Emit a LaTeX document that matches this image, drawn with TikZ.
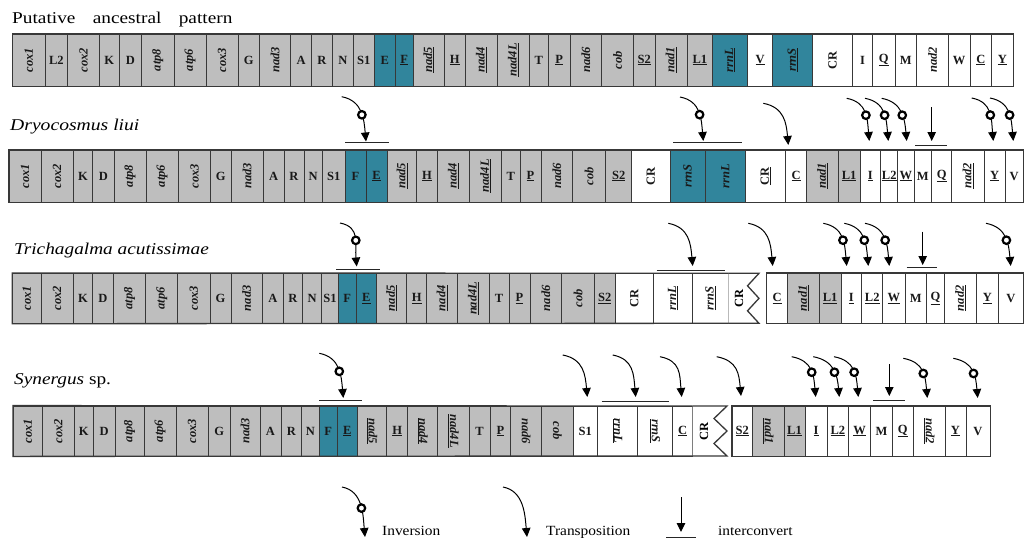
\documentclass[tikz,border=0pt]{standalone}
\usepackage{fontspec}
\setmainfont{Liberation Serif}
\usepackage{graphicx}
\usetikzlibrary{arrows.meta}
\definecolor{gfill}{HTML}{BEBEBE}
\definecolor{bfill}{HTML}{31859C}
\definecolor{cline}{HTML}{383838}
\newcommand\gup[1]{\textbf{#1}}
\newcommand\gul[1]{\textbf{\underline{#1}}}
\newcommand\grot[1]{\rotatebox{90}{\textbf{\textit{#1}}}}
\newcommand\grotu[1]{\rotatebox{90}{\textbf{\textit{\underline{#1}}}}}
\newcommand\grotd[1]{\rotatebox{-90}{\textbf{\textit{#1}}}}
\newcommand\grotdu[1]{\rotatebox{-90}{\textbf{\textit{\underline{#1}}}}}
\newcommand\gcr{\rotatebox{90}{\textbf{CR}}}
\newcommand\gcru{\rotatebox{90}{\textbf{\underline{CR}}}}
\def\rowY{0}\def\rowH{50}
\newcommand\gc[5]{\pgfmathsetmacro\cw{#3-#2}\pgfmathsetmacro\cx{(#2+#3)/2}%
  \node[cellbox,fill=#4,minimum width=\cw pt] (#1) at (\cx,\rowY) {#5};}
\newcommand\invarr[3]{\coordinate (#1s) at #2; \coordinate (#1t) at #3;
  \draw[arr] (#1s) .. controls +(21,4) and +(-2,-22) .. (#1t) node[ring,pos=0.55]{};}
\newcommand\trarr[3]{\coordinate (#1s) at #2; \coordinate (#1t) at #3;
  \draw[arr] (#1s) .. controls +(21,4) and +(-2,-22) .. (#1t);}
\newcommand\hbarline[3]{\coordinate (#1a) at #2; \coordinate (#1b) at #3; \draw[barline] (#1a) -- (#1b);}
\tikzset{
  cellbox/.style={draw=cline,line width=0.8pt,inner sep=0pt,minimum height=\rowH pt,
    font=\fontsize{12.5}{14}\selectfont,text=black!90},
  arr/.style={line width=1pt,-{Triangle[width=8.5pt,length=9pt]}},
  ring/.style={circle,draw=black,fill=white,line width=2.2pt,inner sep=0pt,minimum size=7.5pt},
  barline/.style={line width=0.9pt,draw=black!85},
  outl/.style={draw=cline,line width=1.3pt},
  ttl/.style={anchor=base west,inner sep=0pt,font=\fontsize{16.5}{18}\selectfont},
  lgd/.style={anchor=base west,inner sep=0pt,font=\fontsize{14}{16}\selectfont}
}
\begin{document}
\begin{tikzpicture}[x=1pt,y=-1pt]
\useasboundingbox (0,0) rectangle (1031,542);
% ---------------- titles
\node[ttl] (t1) at (12,23) {\scalebox{1.17}[1]{Putative\hspace{0.9em}ancestral\hspace{0.9em}pattern}};
\node[ttl] (t2) at (10,130.5) {\scalebox{1.19}[1]{\itshape Dryocosmus liui}};
\node[ttl] (t3) at (14,254) {\scalebox{1.17}[1]{\itshape Trichagalma acutissimae}};
\node[ttl] (t4) at (14,384.5) {\scalebox{1.17}[1]{\textit{Synergus} sp.}};
% ---------------- row 1
\def\rowY{60}\def\rowH{52}
\gc{a1}{12.7}{45}{gfill}{\grot{cox1}}
\gc{a2}{45}{67.7}{gfill}{\gup{L2}}
\gc{a3}{67.7}{99.3}{gfill}{\grot{cox2}}
\gc{a4}{99.3}{119.3}{gfill}{\gup{K}}
\gc{a5}{119.3}{141.7}{gfill}{\gup{D}}
\gc{a6}{141.7}{174}{gfill}{\grot{atp8}}
\gc{a7}{174}{206}{gfill}{\grot{atp6}}
\gc{a8}{206}{238.3}{gfill}{\grot{cox3}}
\gc{a9}{238.3}{259.3}{gfill}{\gup{G}}
\gc{a10}{259.3}{290.7}{gfill}{\grot{nad3}}
\gc{a11}{290.7}{311.7}{gfill}{\gup{A}}
\gc{a12}{311.7}{332.3}{gfill}{\gup{R}}
\gc{a13}{332.3}{353.3}{gfill}{\gup{N}}
\gc{a14}{353.3}{374.3}{gfill}{\gup{S1}}
\gc{a15}{374.3}{395.3}{bfill}{\gup{E}}
\gc{a16}{395.3}{413.3}{bfill}{\gul{F}}
\gc{a17}{413.3}{444.3}{gfill}{\grotu{nad5}}
\gc{a18}{444.3}{465.3}{gfill}{\gul{H}}
\gc{a19}{465.3}{497.3}{gfill}{\grotu{nad4}}
\gc{a20}{497.3}{529.3}{gfill}{\grotu{nad4L}}
\gc{a21}{529.3}{548.3}{gfill}{\gup{T}}
\gc{a22}{548.3}{570}{gfill}{\gul{P}}
\gc{a23}{570}{601.7}{gfill}{\grot{nad6}}
\gc{a24}{601.7}{633.3}{gfill}{\grot{cob}}
\gc{a25}{633.3}{655}{gfill}{\gul{S2}}
\gc{a26}{655}{687.3}{gfill}{\grotu{nad1}}
\gc{a27}{687.3}{712.3}{gfill}{\gul{L1}}
\gc{a28}{712.3}{747.7}{bfill}{\grotu{rrnL}}
\gc{a29}{747.7}{772.7}{white}{\gul{V}}
\gc{a30}{772.7}{812.7}{bfill}{\grotu{rrnS}}
\gc{a31}{812.7}{852.3}{white}{\gcr}
\gc{a32}{852.3}{872.7}{white}{\gup{I}}
\gc{a33}{872.7}{895}{white}{\gul{Q}}
\gc{a34}{895}{916.7}{white}{\gup{M}}
\gc{a35}{916.7}{948.3}{white}{\grot{nad2}}
\gc{a36}{948.3}{970}{white}{\gup{W}}
\gc{a37}{970}{991.7}{white}{\gul{C}}
\gc{a38}{991.7}{1013.3}{white}{\gul{Y}}
\draw[outl] (a1.north west) rectangle (a38.south east);
% ---------------- row 2
\def\rowY{176}\def\rowH{52}
\gc{b1}{9.3}{41}{gfill}{\grot{cox1}}
\gc{b2}{41}{73.3}{gfill}{\grot{cox2}}
\gc{b3}{73.3}{92.7}{gfill}{\gup{K}}
\gc{b4}{92.7}{114.3}{gfill}{\gup{D}}
\gc{b5}{114.3}{146}{gfill}{\grot{atp8}}
\gc{b6}{146}{178.3}{gfill}{\grot{atp6}}
\gc{b7}{178.3}{210.7}{gfill}{\grot{cox3}}
\gc{b8}{210.7}{231}{gfill}{\gup{G}}
\gc{b9}{231}{263.3}{gfill}{\grot{nad3}}
\gc{b10}{263.3}{284}{gfill}{\gup{A}}
\gc{b11}{284}{304}{gfill}{\gup{R}}
\gc{b12}{304}{322.3}{gfill}{\gup{N}}
\gc{b13}{322.3}{345}{gfill}{\gup{S1}}
\gc{b14}{345}{366}{bfill}{\gup{F}}
\gc{b15}{366}{387.3}{bfill}{\gul{E}}
\gc{b16}{387.3}{416.7}{gfill}{\grotu{nad5}}
\gc{b17}{416.7}{437.3}{gfill}{\gul{H}}
\gc{b18}{437.3}{469.3}{gfill}{\grotu{nad4}}
\gc{b19}{469.3}{501.7}{gfill}{\grotu{nad4L}}
\gc{b20}{501.7}{520}{gfill}{\gup{T}}
\gc{b21}{520}{541}{gfill}{\gul{P}}
\gc{b22}{541}{572.7}{gfill}{\grot{nad6}}
\gc{b23}{572.7}{605.7}{gfill}{\grot{cob}}
\gc{b24}{605.7}{631.7}{gfill}{\gul{S2}}
\gc{b25}{631.7}{670}{white}{\gcr}
\gc{b26}{670}{705}{bfill}{\grot{rrnS}}
\gc{b27}{705}{745.7}{bfill}{\grot{rrnL}}
\gc{b28}{745.7}{785.7}{white}{\gcru}
\gc{b29}{785.7}{806.7}{white}{\gul{C}}
\gc{b30}{806.7}{838.3}{gfill}{\grotu{nad1}}
\gc{b31}{838.3}{860}{gfill}{\gul{L1}}
\gc{b32}{860}{880.7}{white}{\gul{I}}
\gc{b33}{880.7}{897.7}{white}{\gul{L2}}
\gc{b34}{897.7}{914}{white}{\gul{W}}
\gc{b35}{914}{931.7}{white}{\gup{M}}
\gc{b36}{931.7}{951.7}{white}{\gul{Q}}
\gc{b37}{951.7}{984.3}{white}{\grotu{nad2}}
\gc{b38}{984.3}{1005}{white}{\gul{Y}}
\gc{b39}{1005}{1023.3}{white}{\gup{V}}
\draw[outl] (b1.north west) rectangle (b39.south east);
\draw[line width=1.6pt,draw=black!80] (b14.north east) -- (b14.south east);
% row 2 arrows
\invarr{r2a}{(341.7,96.7)}{(366,141.5)}
\hbarline{r2l}{(345,142.5)}{(389,142.5)}
\invarr{r2b}{(680,97)}{(703.3,141)}
\hbarline{r2m}{(673,142.7)}{(741.7,142.7)}
\trarr{r2c}{(763.3,103.3)}{(788.3,145)}
\invarr{r2d}{(846.7,98.3)}{(869.3,141)}
\invarr{r2e}{(865,98.3)}{(888.3,141)}
\invarr{r2f}{(881.7,98.3)}{(906.7,141)}
\coordinate (r2gs) at (931.7,107); \coordinate (r2gt) at (931.7,141);
\draw[arr] (r2gs) -- (r2gt);
\hbarline{r2n}{(915,145)}{(946.7,145)}
\invarr{r2h}{(971.7,98)}{(993.3,141)}
\invarr{r2i}{(990,98)}{(1013.3,141)}
% ---------------- row 3
\def\rowY{298.3}\def\rowH{50}
\gc{c1}{12.7}{41}{gfill}{\grot{cox1}}
\gc{c2}{41}{73.3}{gfill}{\grot{cox2}}
\gc{c3}{73.3}{92.7}{gfill}{\gup{K}}
\gc{c4}{92.7}{113.3}{gfill}{\gup{D}}
\gc{c5}{113.3}{145.7}{gfill}{\grot{atp8}}
\gc{c6}{145.7}{177.7}{gfill}{\grot{atp6}}
\gc{c7}{177.7}{210}{gfill}{\grot{cox3}}
\gc{c8}{210}{231}{gfill}{\gup{G}}
\gc{c9}{231}{262.3}{gfill}{\grot{nad3}}
\gc{c10}{262.3}{283.3}{gfill}{\gup{A}}
\gc{c11}{283.3}{302.7}{gfill}{\gup{R}}
\gc{c12}{302.7}{321.7}{gfill}{\gup{N}}
\gc{c13}{321.7}{338.3}{gfill}{\gup{S1}}
\gc{c14}{338.3}{356}{bfill}{\gup{F}}
\gc{c15}{356}{376.7}{bfill}{\gul{E}}
\gc{c16}{376.7}{406.7}{gfill}{\grotu{nad5}}
\gc{c17}{406.7}{426.7}{gfill}{\gul{H}}
\gc{c18}{426.7}{457.7}{gfill}{\grotu{nad4}}
\gc{c19}{457.7}{489}{gfill}{\grotu{nad4L}}
\gc{c20}{489}{509}{gfill}{\gup{T}}
\gc{c21}{509}{530}{gfill}{\gul{P}}
\gc{c22}{530}{561.7}{gfill}{\grot{nad6}}
\gc{c23}{561.7}{594.3}{gfill}{\grot{cob}}
\gc{c24}{594.3}{615.3}{gfill}{\gul{S2}}
\gc{c25}{615.3}{653.3}{white}{\gcr}
\gc{c26}{653.3}{692.7}{white}{\grotu{rrnL}}
\gc{c27}{692.7}{728.3}{white}{\grotu{rrnS}}
\draw[outl,fill=white] (728.3,273.3) -- (759,273.3) -- (747.5,285.8) -- (759,298.3) -- (747.5,310.8) -- (759,323.3) -- (728.3,323.3);
\node[inner sep=0pt,font=\fontsize{12.5}{14}\selectfont] (c28) at (739,298.3) {\gcr};
\gc{c29}{766.7}{787.7}{white}{\gul{C}}
\gc{c30}{787.7}{819.3}{gfill}{\grotu{nad1}}
\gc{c31}{819.3}{841}{gfill}{\gul{L1}}
\gc{c32}{841}{861.7}{white}{\gul{I}}
\gc{c33}{861.7}{882.7}{white}{\gul{L2}}
\gc{c34}{882.7}{905}{white}{\gul{W}}
\gc{c35}{905}{926.7}{white}{\gup{M}}
\gc{c36}{926.7}{944.3}{white}{\gul{Q}}
\gc{c37}{944.3}{976.7}{white}{\grotu{nad2}}
\gc{c38}{976.7}{998.3}{white}{\gul{Y}}
\gc{c39}{998.3}{1023.3}{white}{\gup{V}}
\draw[outl] (728.3,273.3) -- (c1.north west) -- (c1.south west) -- (728.3,323.3);
\draw[outl] (c29.north west) rectangle (c39.south east);
% row 3 arrows
\invarr{r3a}{(340,223)}{(356.7,266.5)}
\hbarline{r3l}{(336,269)}{(380,269)}
\trarr{r3b}{(668.3,223.3)}{(692.7,266)}
\hbarline{r3m}{(656.7,270)}{(725,270)}
\trarr{r3c}{(748.3,223.3)}{(772.7,266)}
\invarr{r3d}{(823.3,223.3)}{(846.7,266)}
\invarr{r3e}{(844.3,223.3)}{(868.3,266)}
\invarr{r3f}{(865,223.3)}{(889.3,266)}
\coordinate (r3gs) at (922.7,231.7); \coordinate (r3gt) at (922.7,265);
\draw[arr] (r3gs) -- (r3gt);
\hbarline{r3n}{(906.7,267.7)}{(937.3,267.7)}
\invarr{r3h}{(986,223.3)}{(1010.7,266)}
% ---------------- row 4
\def\rowY{431}\def\rowH{50}
\gc{d1}{13.3}{42.3}{gfill}{\grot{cox1}}
\gc{d2}{42.3}{74.3}{gfill}{\grot{cox2}}
\gc{d3}{74.3}{93.3}{gfill}{\gup{K}}
\gc{d4}{93.3}{115}{gfill}{\gup{D}}
\gc{d5}{115}{144}{gfill}{\grot{atp8}}
\gc{d6}{144}{176}{gfill}{\grot{atp6}}
\gc{d7}{176}{208.3}{gfill}{\grot{cox3}}
\gc{d8}{208.3}{230}{gfill}{\gup{G}}
\gc{d9}{230}{260}{gfill}{\grot{nad3}}
\gc{d10}{260}{281}{gfill}{\gup{A}}
\gc{d11}{281}{301.7}{gfill}{\gup{R}}
\gc{d12}{301.7}{319.3}{gfill}{\gup{N}}
\gc{d13}{319.3}{337.3}{bfill}{\gup{F}}
\gc{d14}{337.3}{357.3}{bfill}{\gul{E}}
\gc{d15}{357.3}{386.7}{gfill}{\grotdu{nad5}}
\gc{d16}{386.7}{407.7}{gfill}{\gul{H}}
\gc{d17}{407.7}{437.3}{gfill}{\grotdu{nad4}}
\gc{d18}{437.3}{469.3}{gfill}{\grotdu{nad4L}}
\gc{d19}{469.3}{490}{gfill}{\gup{T}}
\gc{d20}{490}{510.7}{gfill}{\gul{P}}
\gc{d21}{510.7}{541.7}{gfill}{\grotd{nad6}}
\gc{d22}{541.7}{573.3}{gfill}{\grotd{cob}}
\gc{d23}{573.3}{597.3}{white}{\gup{S1}}
\gc{d24}{597.3}{637.3}{white}{\grotdu{rrnL}}
\gc{d25}{637.3}{672.7}{white}{\grotdu{rrnS}}
\gc{d26}{672.7}{692.7}{white}{\gul{C}}
\draw[outl,fill=white] (692.7,406) -- (727,406) -- (714,418.5) -- (727,431) -- (714,443.5) -- (727,456) -- (692.7,456);
\node[inner sep=0pt,font=\fontsize{12.5}{14}\selectfont] (d27) at (704,431) {\gcr};
\gc{d28}{732.3}{752.3}{white}{\gul{S2}}
\gc{d29}{752.3}{784}{gfill}{\grotdu{nad1}}
\gc{d30}{784}{805}{gfill}{\gul{L1}}
\gc{d31}{805}{827.3}{white}{\gul{I}}
\gc{d32}{827.3}{848.3}{white}{\gul{L2}}
\gc{d33}{848.3}{870.7}{white}{\gul{W}}
\gc{d34}{870.7}{892.3}{white}{\gup{M}}
\gc{d35}{892.3}{913.3}{white}{\gul{Q}}
\gc{d36}{913.3}{945}{white}{\grotdu{nad2}}
\gc{d37}{945}{966}{white}{\gul{Y}}
\gc{d38}{966}{990}{white}{\gup{V}}
\draw[outl] (692.7,406) -- (d1.north west) -- (d1.south west) -- (692.7,456);
\draw[outl] (d28.north west) rectangle (d38.south east);
% row 4 arrows
\invarr{r4a}{(319.3,353.3)}{(343.3,398)}
\hbarline{r4l}{(319.3,400.7)}{(361.7,400.7)}
\trarr{r4b}{(562.7,355)}{(587.3,397)}
\trarr{r4c}{(612.7,355)}{(635.7,397)}
\hbarline{r4m}{(601.7,401)}{(669.3,401)}
\trarr{r4d}{(660,356.7)}{(681.7,397)}
\trarr{r4e}{(716.7,356.7)}{(741,396)}
\invarr{r4f}{(791.7,356.7)}{(815.7,397)}
\invarr{r4g}{(813.3,356.7)}{(839.3,397)}
\invarr{r4h}{(834,356.7)}{(858.3,397)}
\coordinate (r4is) at (889.3,364); \coordinate (r4it) at (889.3,396);
\draw[arr] (r4is) -- (r4it);
\hbarline{r4n}{(873.3,400)}{(905,400)}
\invarr{r4j}{(903.3,358.3)}{(927.3,398)}
\invarr{r4k}{(953.3,358.3)}{(977.7,398)}
% ---------------- legend
\invarr{lga}{(342,487)}{(365,537)}
\node[lgd] (lg1) at (382,535) {\scalebox{1.1}[1]{Inversion}};
\trarr{lgb}{(503,487)}{(527,537)}
\node[lgd] (lg2) at (546,535) {\scalebox{1.1}[1]{Transposition}};
\coordinate (lgcs) at (681,497); \coordinate (lgct) at (681,532);
\draw[arr] (lgcs) -- (lgct);
\hbarline{lgl}{(666,537)}{(696,537)}
\node[lgd] (lg3) at (718,535) {\scalebox{1.1}[1]{interconvert}};
\end{tikzpicture}
\end{document}
